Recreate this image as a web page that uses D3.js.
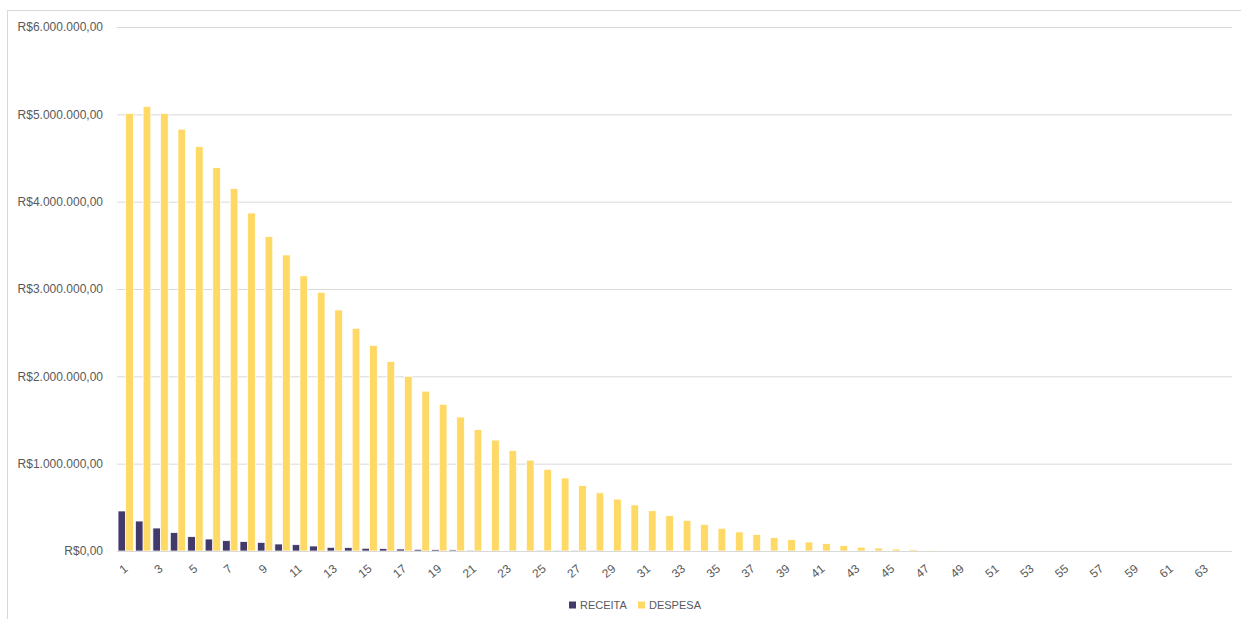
<!DOCTYPE html>
<html>
<head>
<meta charset="utf-8">
<script src="https://cdn.jsdelivr.net/npm/d3@7"></script>
<style>
  body { margin: 0; background: #fff; }
  svg { display: block; font-family: "Liberation Sans", Arial, sans-serif; }
  .axis text { fill: #595959; font-size: 12px; }
  .axis path { display: none; }
</style>
</head>
<body>
<script>
// periodos 1..64
let periodos = d3.range(1, 65);
let series = ["RECEITA", "DESPESA"];

let receita = [458000, 343000, 263000, 210000, 164000, 137000, 118000, 107000, 99000, 80000,
  72000, 57000, 42000, 38000, 31000, 27000, 23000, 19000, 15000, 13000,
  10000, 8000, 6000, 5000, 4000, 3000, 3000, 2000, 0, 0,
  0, 0, 0, 0, 0, 0, 0, 0, 0, 0,
  0, 0, 0, 0, 0, 0, 0, 0, 0, 0,
  0, 0, 0, 0, 0, 0, 0, 0, 0, 0,
  0, 0, 0, 0];

let despesa = [5010000, 5090000, 5010000, 4830000, 4630000, 4390000, 4150000, 3870000, 3600000, 3390000,
  3150000, 2962000, 2760000, 2550000, 2355000, 2170000, 2000000, 1830000, 1680000, 1534000,
  1390000, 1270000, 1150000, 1040000, 935000, 836000, 748000, 666000, 594000, 527000,
  461000, 404000, 351000, 305000, 260000, 218000, 187000, 153000, 129000, 103000,
  84000, 61000, 44000, 34000, 23000, 15000, 10000, 6000, 4000, 2000,
  1000, 0, 0, 0, 0, 0, 0, 0, 0, 0,
  0, 0, 0, 0];

let yTicks = [0, 1000000, 2000000, 3000000, 4000000, 5000000, 6000000];
let cores = {RECEITA: "#433a6c", DESPESA: "#ffd966"};

let W = 1241, H = 619;
let margin = {left: 117, right: 9, top: 27, bottom: 68};

let svg = d3.select("body").append("svg").attr("width", W).attr("height", H);

// moldura do grafico
svg.append("rect")
  .attr("x", 7.5).attr("y", 10.5)
  .attr("width", W + 10).attr("height", H + 10)
  .attr("fill", "none").attr("stroke", "#d9d9d9");

let rows = periodos.map((p, i) => ({periodo: p, RECEITA: receita[i], DESPESA: despesa[i]}));

let x0 = d3.scaleBand()
  .domain(periodos)
  .range([margin.left, W - margin.right])
  .paddingInner(0.12)
  .paddingOuter(0.06);

let x1 = d3.scaleBand()
  .domain(series)
  .range([0, x0.bandwidth()]);

let y = d3.scaleLinear()
  .domain([0, 6000000])
  .range([H - margin.bottom, margin.top]);

let br = d3.formatLocale({decimal: ",", thousands: ".", grouping: [3], currency: ["R$", ""]});
let fmt = br.format("$,.2f");

let yAxis = d3.axisLeft(y)
  .tickValues(yTicks)
  .tickSize(-(W - margin.right - margin.left))
  .tickPadding(14)
  .tickFormat(fmt);

let gy = svg.append("g").attr("class", "axis y")
  .attr("transform", "translate(" + margin.left + ",0)")
  .call(yAxis);
gy.selectAll(".tick line").attr("stroke", "#d9d9d9").attr("stroke-width", 1);

// barras
let grupos = svg.append("g").selectAll("g")
  .data(rows)
  .enter().append("g")
  .attr("transform", d => "translate(" + x0(d.periodo) + ",0)");

grupos.selectAll("rect")
  .data(d => series.map(k => ({key: k, value: d[k]})))
  .enter().append("rect")
  .attr("x", d => x1(d.key))
  .attr("y", d => y(d.value))
  .attr("width", x1.bandwidth())
  .attr("height", d => y(0) - y(d.value))
  .attr("fill", d => cores[d.key])
  .attr("stroke", "#fff")
  .attr("stroke-width", 0.7);

// eixo x
svg.append("line")
  .attr("x1", margin.left).attr("x2", W - margin.right)
  .attr("y1", y(0) + 0.5).attr("y2", y(0) + 0.5)
  .attr("stroke", "#d9d9d9");

let xAxis = d3.axisBottom(x0)
  .tickValues(periodos.filter(p => p % 2 === 1))
  .tickSize(0)
  .tickPadding(0);

let gx = svg.append("g").attr("class", "axis x")
  .attr("transform", "translate(0," + y(0) + ")")
  .call(xAxis);
gx.selectAll("text")
  .attr("text-anchor", "end")
  .attr("dy", 0)
  .attr("transform", "translate(3,19) rotate(-40)");

// legenda
let leg = svg.append("g").attr("transform", "translate(569,605)");
let legX = [0, 69];
series.forEach((s, i) => {
  let g = leg.append("g").attr("transform", "translate(" + legX[i] + ",0)");
  g.append("rect").attr("x", 0).attr("y", -3.5).attr("width", 7).attr("height", 7).attr("fill", cores[s]);
  g.append("text").attr("x", 11).attr("y", 0).attr("dy", "0.35em")
    .attr("fill", "#595959").style("font-size", "11px").text(s);
});
</script>
</body>
</html>
